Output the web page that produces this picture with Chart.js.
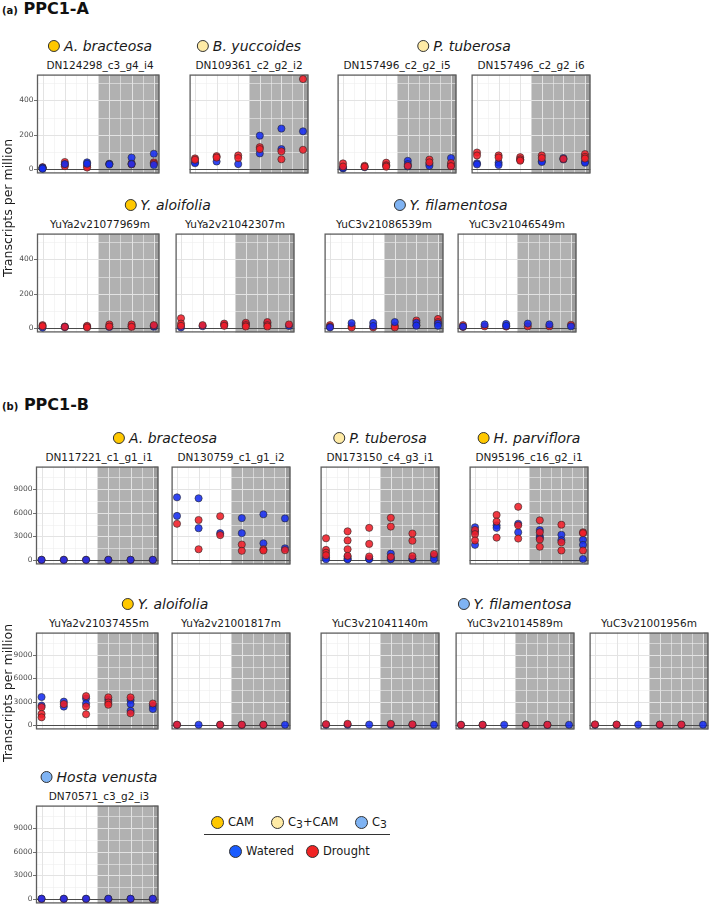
<!DOCTYPE html>
<html>
<head>
<meta charset="utf-8">
<script src="https://cdn.jsdelivr.net/npm/chart.js@4.4.1/dist/chart.umd.min.js"></script>
<style>
  body { margin: 0; width: 709px; height: 907px; overflow: hidden; background: #fff; font-family: "DejaVu Sans", Verdana, sans-serif; position: relative; }
  canvas { position: absolute; }
  .t { position: absolute; white-space: nowrap; transform: translate(-50%, -50%); color: #1a1a1a; }
  .gene { font-size: 10.5px; }
  .sp { font-size: 14px; font-style: italic; display: flex; align-items: center; }
  .dot { display: inline-block; width: 12px; height: 12px; border-radius: 50%; border: 1px solid #333; box-sizing: border-box; margin-right: 4px; }
  .head { position: absolute; font-weight: bold; color: #111; }
  .ytitle { position: absolute; font-size: 12.5px; color: #1a1a1a; transform: translate(-50%, -50%) rotate(-90deg); white-space: nowrap; }
  .leg { position: absolute; font-size: 11.5px; display: flex; align-items: center; transform: translate(0, -50%); color: #1a1a1a; }
  .leg .dot { width: 13px; height: 13px; margin-right: 4px; }
</style>
</head>
<body>
<script>
// PPC1-A: transcripts per million, one list per time point (1..6)
// _w = watered, _d = drought
const a1_w = [[5, 9, 3], [30], [40, 32], [32, 27], [68, 30], [90, 25]];
const a1_d = [[12, 8], [42, 28, 18], [20, 10], [30], [35, 28], [40, 33]];
const a2_w = [[40, 35], [45], [30], [195, 92], [236, 117], [220]];
const a2_d = [[63, 55], [76, 68], [80, 65], [128, 117], [104, 58], [523, 113]];
const a3_w = [[5, 8], [12], [25], [49, 30, 16], [31, 20], [65, 22]];
const a3_d = [[34, 16], [20, 14], [38, 22, 15], [20], [56, 40], [36, 18]];
const a4_w = [[35, 28], [38, 25], [55], [47, 42], [65, 57], [43, 38]];
const a4_d = [[97, 80], [80, 68], [70, 58, 50], [80, 65], [60], [88, 72, 62]];
const a5_w = [[4], [10, 6], [10], [8], [12], [9, 14]];
const a5_d = [[18, 12], [8], [14, 5], [22, 10], [22, 8], [18]];
const a6_w = [[5], [12], [20], [25], [30], [13]];
const a6_d = [[58, 27, 14], [18], [27, 14], [32, 18, 10], [36, 18, 10], [22]];
const a7_w = [[5], [30], [31, 13], [36], [32, 15], [27, 14]];
const a7_d = [[18, 9], [14, 5], [5], [14, 5], [45, 18], [54, 36]];
const a8_w = [[10], [22], [25, 14], [27], [22], [11]];
const a8_d = [[18, 7], [11], [10], [11], [11], [20]];

// PPC1-B
const b1_w = [[20], [20], [20], [20], [20], [20]];
const b1_d = [[10], [10], [10], [10], [10], [10]];
const b2_w = [[7960, 5600], [7840, 4040], [3400], [5320, 3400], [5800, 2120], [5280, 1480]];
const b2_d = [[4600], [5080, 1360], [5560, 3160], [1960, 1160], [1360, 1200], [1240]];
const b3_w = [[300, 100], [400, 150, 80], [160, 100], [800, 250, 80], [160, 100], [480, 80]];
const b3_d = [[2760, 1280, 920, 600], [3640, 2480, 1360, 520], [4080, 2040, 440], [5360, 4240, 400], [3360, 2440, 480], [760]];
const b4_w = [[4160, 3600, 1920], [4400, 4080], [4600, 3520], [3800, 3000, 2800], [3200, 2520], [2560, 1920, 120]];
const b4_d = [[3800, 3280, 2480], [5720, 4880, 2840], [6760, 4400, 2720], [5040, 3520, 2600, 1680], [4480, 2240, 1200], [3520, 3400, 1200]];
const b5_w = [[3590, 2490], [3000, 2370], [3400, 2760], [3240], [3200, 2690, 1820], [2450, 2050]];
const b5_d = [[2290, 1420, 990], [2690], [3710, 2370, 1380], [3550, 2880, 2600], [3550, 1500], [2760]];
const b6_w = [[20], [30], [20], [20], [20], [30]];
const b6_d = [[40], [], [40], [40], [40], []];
const b7_w = [[30], [40], [50], [40], [30], [40]];
const b7_d = [[100], [150], [], [150], [80], []];
const b8_w = [[10], [10], [30], [10], [10], [30]];
const b8_d = [[30], [30], [], [30], [30], []];
const b9_w = [[20], [20], [50], [20], [20], [40]];
const b9_d = [[80], [60], [], [60], [60], []];
const b10_w = [[30], [30], [30], [30], [30], [30]];
const b10_d = [[10], [10], [10], [10], [10], [10]];

const ticksA = [0, 200, 400];
const ticksB = [0, 3000, 6000, 9000];

const typeColors = { CAM: '#FFC800', C3CAM: '#FFEBA6', C3: '#7FB3F3' };

// layout: panel boxes in page pixels
const rows = [
  { top: 71, h: 106, ymin: -24, ymax: 549, ticks: ticksA, groups: [
    { sp: 'A. bracteosa', type: 'CAM', panels: [{ id: 'DN124298_c3_g4_i4', L: 37, w: a1_w, d: a1_d, top: 'w' }] },
    { sp: 'B. yuccoides', type: 'C3CAM', panels: [{ id: 'DN109361_c2_g2_i2', L: 186, w: a2_w, d: a2_d }] },
    { sp: 'P. tuberosa', type: 'C3CAM', panels: [{ id: 'DN157496_c2_g2_i5', L: 334, w: a3_w, d: a3_d }, { id: 'DN157496_c2_g2_i6', L: 468, w: a4_w, d: a4_d }] }
  ] },
  { top: 230, h: 106, ymin: -24, ymax: 549, ticks: ticksA, groups: [
    { sp: 'Y. aloifolia', type: 'CAM', panels: [{ id: 'YuYa2v21077969m', L: 37, w: a5_w, d: a5_d }, { id: 'YuYa2v21042307m', L: 172, w: a6_w, d: a6_d }] },
    { sp: 'Y. filamentosa', type: 'C3', panels: [{ id: 'YuC3v21086539m', L: 321, w: a7_w, d: a7_d, top: 'w' }, { id: 'YuC3v21046549m', L: 454, w: a8_w, d: a8_d, top: 'w' }] }
  ] },
  { top: 463, h: 105, ymin: -565, ymax: 11870, ticks: ticksB, groups: [
    { sp: 'A. bracteosa', type: 'CAM', panels: [{ id: 'DN117221_c1_g1_i1', L: 36, w: b1_w, d: b1_d, top: 'w' }, { id: 'DN130759_c1_g1_i2', L: 168, w: b2_w, d: b2_d }] },
    { sp: 'P. tuberosa', type: 'C3CAM', panels: [{ id: 'DN173150_c4_g3_i1', L: 317, w: b3_w, d: b3_d }] },
    { sp: 'H. parviflora', type: 'CAM', panels: [{ id: 'DN95196_c16_g2_i1', L: 466, w: b4_w, d: b4_d }] }
  ] },
  { top: 629, h: 104, ymin: -565, ymax: 11870, ticks: ticksB, groups: [
    { sp: 'Y. aloifolia', type: 'CAM', panels: [{ id: 'YuYa2v21037455m', L: 36, w: b5_w, d: b5_d }, { id: 'YuYa2v21001817m', L: 168, w: b6_w, d: b6_d }] },
    { sp: 'Y. filamentosa', type: 'C3', panels: [{ id: 'YuC3v21041140m', L: 317, w: b7_w, d: b7_d }, { id: 'YuC3v21014589m', L: 452, w: b8_w, d: b8_d }, { id: 'YuC3v21001956m', L: 586, w: b9_w, d: b9_d }] }
  ] },
  { top: 802, h: 105, ymin: -565, ymax: 11870, ticks: ticksB, groups: [
    { sp: 'Hosta venusta', type: 'C3', panels: [{ id: 'DN70571_c3_g2_i3', L: 36, w: b10_w, d: b10_d, top: 'w' }] }
  ] }
];
const PW = 126;

function pts(groups) {
  const out = [];
  groups.forEach((vals, i) => vals.forEach(v => out.push({ x: i + 1, y: v })));
  return out;
}

const panelBg = {
  id: 'panelBg',
  beforeDatasetsDraw(chart, args, opts) {
    const { ctx, chartArea: a, scales: { x, y } } = chart;
    ctx.save();
    ctx.fillStyle = '#fff';
    ctx.fillRect(a.left, a.top, a.width, a.height);
    const xs = x.getPixelForValue(3.5);
    ctx.fillStyle = '#b1b1b1';
    ctx.fillRect(xs, a.top, a.right - xs, a.height);
    const x6 = x.getPixelForValue(6);
    ctx.fillStyle = '#9d9d9d';
    ctx.fillRect(x6, a.top, a.right - x6, a.height);

    // grid
    const step = opts.ticks[1] - opts.ticks[0];
    ctx.lineWidth = 0.6;
    ctx.strokeStyle = '#eeeeee';
    for (let v = step / 2; v < y.max; v += step) {
      const py = Math.round(y.getPixelForValue(v)) + 0.5;
      ctx.beginPath(); ctx.moveTo(a.left, py); ctx.lineTo(a.right, py); ctx.stroke();
    }
    for (let v = 1.5; v < 6.25; v += 1) {
      const px = Math.round(x.getPixelForValue(v)) + 0.5;
      ctx.beginPath(); ctx.moveTo(px, a.top); ctx.lineTo(px, a.bottom); ctx.stroke();
    }
    ctx.lineWidth = 1;
    ctx.strokeStyle = '#e3e3e3';
    opts.ticks.forEach(v => {
      const py = Math.round(y.getPixelForValue(v)) + 0.5;
      ctx.beginPath(); ctx.moveTo(a.left, py); ctx.lineTo(a.right, py); ctx.stroke();
    });
    for (let v = 1; v <= 6; v++) {
      const px = Math.round(x.getPixelForValue(v)) + 0.5;
      ctx.beginPath(); ctx.moveTo(px, a.top); ctx.lineTo(px, a.bottom); ctx.stroke();
    }

    // zero line
    const p0 = Math.round(y.getPixelForValue(0)) + 0.5;
    ctx.strokeStyle = '#4a4a4a';
    ctx.lineWidth = 1;
    ctx.beginPath(); ctx.moveTo(a.left, p0); ctx.lineTo(a.right, p0); ctx.stroke();

    // frame
    ctx.strokeStyle = '#5e5e5e';
    ctx.lineWidth = 1.3;
    ctx.strokeRect(a.left + 0.5, a.top + 0.5, a.width - 1, a.height - 1);

    // y ticks on the first panel of a row
    if (opts.showTicks) {
      ctx.fillStyle = '#4d4d4d';
      ctx.strokeStyle = '#4d4d4d';
      ctx.lineWidth = 0.8;
      ctx.font = '7.5px "DejaVu Sans"';
      ctx.textAlign = 'right';
      ctx.textBaseline = 'middle';
      opts.ticks.forEach(v => {
        const py = Math.round(y.getPixelForValue(v)) + 0.5;
        ctx.beginPath(); ctx.moveTo(a.left - 3, py); ctx.lineTo(a.left, py); ctx.stroke();
        ctx.fillText(String(v), a.left - 3.5, py);
      });
    }
    ctx.restore();
  }
};

function addText(cls, html, x, y) {
  const el = document.createElement('div');
  el.className = cls;
  el.innerHTML = html;
  el.style.left = x + 'px';
  el.style.top = y + 'px';
  document.body.appendChild(el);
  return el;
}

const blueFill = 'rgba(22, 44, 240, 0.88)';
const redFill = 'rgba(240, 30, 40, 0.88)';

rows.forEach(row => {
  row.groups.forEach((g, gi) => {
    const first = g.panels[0].L;
    const last = g.panels[g.panels.length - 1].L + PW;
    addText('t sp', '<span class="dot" style="background:' + typeColors[g.type] + '"></span>' + g.sp, (first + last) / 2, row.top - 25);
    g.panels.forEach((p, pi) => {
      addText('t gene', p.id, p.L + PW / 2, row.top - 6);
      const lead = gi === 0 && pi === 0;
      const padL = lead ? 36 : 1;
      const cv = document.createElement('canvas');
      cv.width = PW + padL + 1;
      cv.height = row.h + 2;
      cv.style.left = (p.L - padL) + 'px';
      cv.style.top = (row.top - 1) + 'px';
      document.body.appendChild(cv);
      const wet = { label: 'Watered', data: pts(p.w), backgroundColor: blueFill };
      const dry = { label: 'Drought', data: pts(p.d), backgroundColor: redFill };
      const sets = p.top === 'w' ? [wet, dry] : [dry, wet];
      sets.forEach(s => { s.pointRadius = 3.6; s.borderColor = '#262626'; s.borderWidth = 0.6; });
      new Chart(cv, {
        type: 'scatter',
        data: { datasets: sets },
        options: {
          responsive: false,
          animation: false,
          events: [],
          layout: { padding: { left: padL, top: 1, right: 1, bottom: 1 } },
          plugins: {
            legend: { display: false },
            tooltip: { enabled: false },
            panelBg: { ticks: row.ticks, showTicks: lead }
          },
          scales: {
            x: { type: 'linear', min: 0.75, max: 6.25, display: false },
            y: { type: 'linear', min: row.ymin, max: row.ymax, display: false }
          }
        },
        plugins: [panelBg]
      });
    });
  });
});

// headings
addText('head', '<span style="font-size:10px">(a)</span> <span style="font-size:16px">PPC1-A</span>', 2, 0).style.top = '-1px';
addText('head', '<span style="font-size:10px">(b)</span> <span style="font-size:16px">PPC1-B</span>', 2, 395);
addText('ytitle', 'Transcripts per million', 7, 208);
addText('ytitle', 'Transcripts per million', 7, 693);

// legend
const leg1 = [['CAM', typeColors.CAM, 211], ['C<span style="font-size:0.95em;position:relative;top:2px">3</span>+CAM', typeColors.C3CAM, 271], ['C<span style="font-size:0.95em;position:relative;top:2px">3</span>', typeColors.C3, 355]];
leg1.forEach(([t, c, x]) => addText('leg', '<span class="dot" style="background:' + c + '"></span>' + t, x, 822));
const leg2 = [['Watered', '#1a5cff', 229], ['Drought', '#f02424', 306]];
leg2.forEach(([t, c, x]) => addText('leg', '<span class="dot" style="background:' + c + '"></span>' + t, x, 851));
const line = document.createElement('div');
line.style.cssText = 'position:absolute;left:204px;top:834px;width:186px;height:1px;background:#333;';
document.body.appendChild(line);
</script>
</body>
</html>
